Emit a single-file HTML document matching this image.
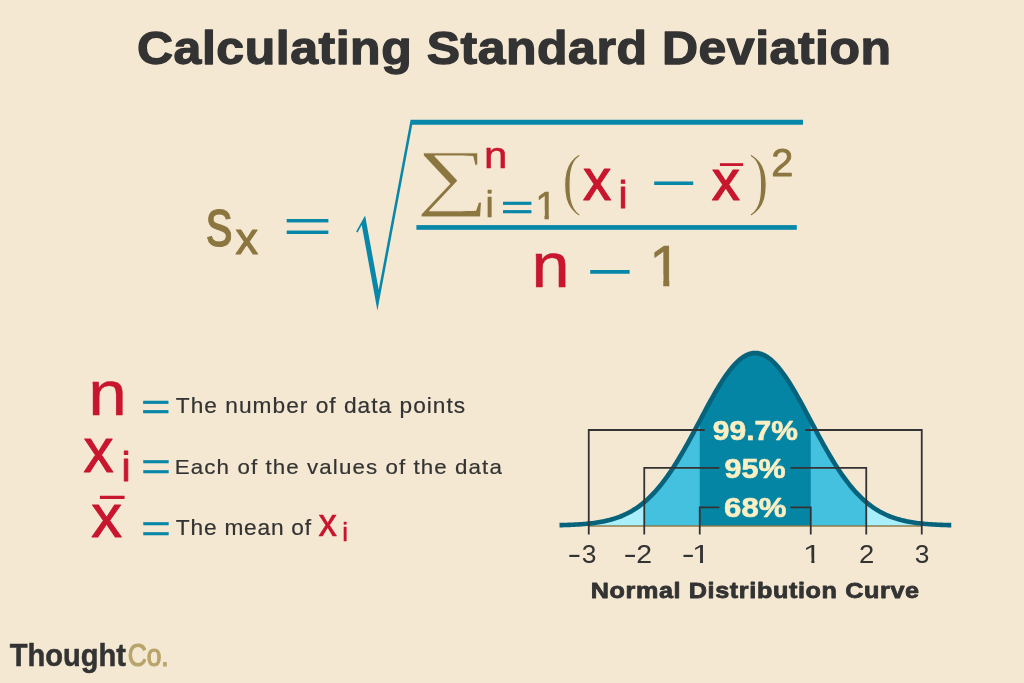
<!DOCTYPE html>
<html lang="en"><head><meta charset="utf-8"><title>Calculating Standard Deviation</title>
<style>
html,body{margin:0;padding:0;background:#f4e8d3;}
body{width:1024px;height:683px;overflow:hidden;}
svg{display:block;}
text{white-space:pre;}
</style></head><body>
<svg width="1024" height="683" viewBox="0 0 1024 683">
<defs>
<clipPath id="c1_0"><path d="M3.01 -38.95H13.64V7.79H9.40V-7.99H3.01Z"/></clipPath>
<clipPath id="c1_1"><path d="M4.69 -58.14H20.21V11.63H14.17V-11.92H4.69Z"/></clipPath>
<clipPath id="c1_2"><path d="M2.41 -26.02H8.94V5.20H6.44V-5.34H2.41Z"/></clipPath>
<clipPath id="c1_3"><path d="M2.41 -26.02H8.94V5.20H6.44V-5.34H2.41Z"/></clipPath>
</defs>
<rect width="1024" height="683" fill="#f4e8d3"/>
<g id="chart">
<path d="M588.75 526.00 L588.75 523.58 L590.75 523.37 L592.75 523.13 L594.75 522.87 L596.75 522.58 L598.75 522.26 L600.75 521.92 L602.75 521.54 L604.75 521.13 L606.75 520.69 L608.75 520.21 L610.75 519.68 L612.75 519.11 L614.75 518.50 L616.75 517.84 L618.75 517.12 L620.75 516.35 L622.75 515.52 L624.75 514.63 L626.75 513.68 L628.75 512.66 L630.75 511.57 L632.75 510.40 L634.75 509.16 L636.75 507.85 L638.75 506.45 L640.75 504.96 L642.75 503.39 L644.75 501.73 L646.75 499.98 L648.75 498.13 L650.75 496.19 L652.75 494.16 L654.75 492.02 L656.75 489.79 L658.75 487.45 L660.75 485.02 L662.75 482.49 L664.75 479.85 L666.75 477.12 L668.75 474.29 L670.75 471.37 L672.75 468.36 L674.75 465.25 L676.75 462.06 L678.75 458.78 L680.75 455.43 L682.75 452.01 L684.75 448.52 L686.75 444.96 L688.75 441.35 L690.75 437.70 L692.75 434.00 L694.75 430.27 L696.75 426.52 L698.75 422.76 L700.75 418.99 L702.75 415.22 L704.75 411.47 L706.75 407.75 L708.75 404.06 L710.75 400.42 L712.75 396.84 L714.75 393.32 L716.75 389.89 L718.75 386.55 L720.75 383.31 L722.75 380.18 L724.75 377.18 L726.75 374.31 L728.75 371.58 L730.75 369.01 L732.75 366.61 L734.75 364.38 L736.75 362.32 L738.75 360.46 L740.75 358.79 L742.75 357.32 L744.75 356.06 L746.75 355.01 L748.75 354.18 L750.75 353.57 L752.75 353.17 L754.75 353.01 L756.75 353.06 L758.75 353.34 L760.75 353.84 L762.75 354.57 L764.75 355.51 L766.75 356.66 L768.75 358.03 L770.75 359.60 L772.75 361.37 L774.75 363.33 L776.75 365.47 L778.75 367.79 L780.75 370.28 L782.75 372.93 L784.75 375.72 L786.75 378.66 L788.75 381.73 L790.75 384.91 L792.75 388.21 L794.75 391.60 L796.75 395.07 L798.75 398.62 L800.75 402.23 L802.75 405.90 L804.75 409.61 L806.75 413.35 L808.75 417.10 L810.75 420.87 L812.75 424.64 L814.75 428.40 L816.75 432.14 L818.75 435.85 L820.75 439.53 L822.75 443.16 L824.75 446.75 L826.75 450.27 L828.75 453.73 L830.75 457.12 L832.75 460.43 L834.75 463.67 L836.75 466.81 L838.75 469.88 L840.75 472.84 L842.75 475.72 L844.75 478.50 L846.75 481.18 L848.75 483.77 L850.75 486.25 L852.75 488.63 L854.75 490.92 L856.75 493.10 L858.75 495.19 L860.75 497.18 L862.75 499.07 L864.75 500.87 L866.75 502.57 L868.75 504.19 L870.75 505.71 L872.75 507.16 L874.75 508.51 L876.75 509.79 L878.75 510.99 L880.75 512.12 L882.75 513.18 L884.75 514.16 L886.75 515.08 L888.75 515.94 L890.75 516.74 L892.75 517.48 L894.75 518.17 L896.75 518.81 L898.75 519.40 L900.75 519.95 L902.75 520.45 L904.75 520.92 L906.75 521.34 L908.75 521.74 L910.75 522.09 L912.75 522.42 L914.75 522.72 L916.75 523.00 L918.75 523.25 L920.75 523.48 L921.75 523.58 L921.75 526.00Z" fill="#a9eefb"/>
<path d="M644.25 526.00 L644.25 502.15 L646.25 500.43 L648.25 498.60 L650.25 496.69 L652.25 494.68 L654.25 492.57 L656.25 490.36 L658.25 488.05 L660.25 485.64 L662.25 483.13 L664.25 480.52 L666.25 477.81 L668.25 475.01 L670.25 472.11 L672.25 469.12 L674.25 466.04 L676.25 462.86 L678.25 459.61 L680.25 456.28 L682.25 452.87 L684.25 449.39 L686.25 445.86 L688.25 442.26 L690.25 438.62 L692.25 434.93 L694.25 431.21 L696.25 427.46 L698.25 423.70 L700.25 419.93 L702.25 416.16 L704.25 412.41 L706.25 408.68 L708.25 404.98 L710.25 401.33 L712.25 397.73 L714.25 394.19 L716.25 390.74 L718.25 387.37 L720.25 384.11 L722.25 380.95 L724.25 377.92 L726.25 375.01 L728.25 372.25 L730.25 369.64 L732.25 367.19 L734.25 364.92 L736.25 362.82 L738.25 360.91 L740.25 359.19 L742.25 357.67 L744.25 356.36 L746.25 355.25 L748.25 354.37 L750.25 353.70 L752.25 353.25 L754.25 353.03 L756.25 353.03 L758.25 353.25 L760.25 353.70 L762.25 354.37 L764.25 355.25 L766.25 356.36 L768.25 357.67 L770.25 359.19 L772.25 360.91 L774.25 362.82 L776.25 364.92 L778.25 367.19 L780.25 369.64 L782.25 372.25 L784.25 375.01 L786.25 377.92 L788.25 380.95 L790.25 384.11 L792.25 387.37 L794.25 390.74 L796.25 394.19 L798.25 397.73 L800.25 401.33 L802.25 404.98 L804.25 408.68 L806.25 412.41 L808.25 416.16 L810.25 419.93 L812.25 423.70 L814.25 427.46 L816.25 431.21 L818.25 434.93 L820.25 438.62 L822.25 442.26 L824.25 445.86 L826.25 449.39 L828.25 452.87 L830.25 456.28 L832.25 459.61 L834.25 462.86 L836.25 466.04 L838.25 469.12 L840.25 472.11 L842.25 475.01 L844.25 477.81 L846.25 480.52 L848.25 483.13 L850.25 485.64 L852.25 488.05 L854.25 490.36 L856.25 492.57 L858.25 494.68 L860.25 496.69 L862.25 498.60 L864.25 500.43 L866.25 502.15 L866.25 526.00Z" fill="#44c1de"/>
<path d="M699.75 526.00 L699.75 420.87 L701.75 417.10 L703.75 413.35 L705.75 409.61 L707.75 405.90 L709.75 402.23 L711.75 398.62 L713.75 395.07 L715.75 391.60 L717.75 388.21 L719.75 384.91 L721.75 381.73 L723.75 378.66 L725.75 375.72 L727.75 372.93 L729.75 370.28 L731.75 367.79 L733.75 365.47 L735.75 363.33 L737.75 361.37 L739.75 359.60 L741.75 358.03 L743.75 356.66 L745.75 355.51 L747.75 354.57 L749.75 353.84 L751.75 353.34 L753.75 353.06 L755.75 353.01 L757.75 353.17 L759.75 353.57 L761.75 354.18 L763.75 355.01 L765.75 356.06 L767.75 357.32 L769.75 358.79 L771.75 360.46 L773.75 362.32 L775.75 364.38 L777.75 366.61 L779.75 369.01 L781.75 371.58 L783.75 374.31 L785.75 377.18 L787.75 380.18 L789.75 383.31 L791.75 386.55 L793.75 389.89 L795.75 393.32 L797.75 396.84 L799.75 400.42 L801.75 404.06 L803.75 407.75 L805.75 411.47 L807.75 415.22 L809.75 418.99 L810.75 420.87 L810.75 526.00Z" fill="#0585a4"/>
<rect x="588.75" y="525.30" width="333.00" height="1.4" fill="#8c7640"/>
<path d="M559.50 525.16 L561.00 525.12 L562.50 525.09 L564.00 525.04 L565.50 525.00 L567.00 524.95 L568.50 524.90 L570.00 524.84 L571.50 524.78 L573.00 524.71 L574.50 524.64 L576.00 524.56 L577.50 524.48 L579.00 524.39 L580.50 524.29 L582.00 524.18 L583.50 524.06 L585.00 523.94 L586.50 523.80 L588.00 523.66 L589.50 523.50 L591.00 523.34 L592.50 523.16 L594.00 522.97 L595.50 522.76 L597.00 522.54 L598.50 522.30 L600.00 522.05 L601.50 521.78 L603.00 521.49 L604.50 521.19 L606.00 520.86 L607.50 520.51 L609.00 520.14 L610.50 519.75 L612.00 519.33 L613.50 518.89 L615.00 518.42 L616.50 517.92 L618.00 517.39 L619.50 516.84 L621.00 516.25 L622.50 515.63 L624.00 514.97 L625.50 514.28 L627.00 513.55 L628.50 512.79 L630.00 511.98 L631.50 511.14 L633.00 510.25 L634.50 509.32 L636.00 508.35 L637.50 507.33 L639.00 506.26 L640.50 505.15 L642.00 503.99 L643.50 502.78 L645.00 501.52 L646.50 500.20 L648.00 498.84 L649.50 497.42 L651.00 495.95 L652.50 494.42 L654.00 492.83 L655.50 491.20 L657.00 489.50 L658.50 487.75 L660.00 485.94 L661.50 484.08 L663.00 482.16 L664.50 480.19 L666.00 478.16 L667.50 476.07 L669.00 473.93 L670.50 471.74 L672.00 469.50 L673.50 467.20 L675.00 464.86 L676.50 462.46 L678.00 460.02 L679.50 457.54 L681.00 455.01 L682.50 452.44 L684.00 449.83 L685.50 447.19 L687.00 444.51 L688.50 441.81 L690.00 439.07 L691.50 436.32 L693.00 433.54 L694.50 430.74 L696.00 427.93 L697.50 425.11 L699.00 422.29 L700.50 419.46 L702.00 416.63 L703.50 413.82 L705.00 411.01 L706.50 408.21 L708.00 405.44 L709.50 402.69 L711.00 399.97 L712.50 397.28 L714.00 394.63 L715.50 392.02 L717.00 389.47 L718.50 386.96 L720.00 384.51 L721.50 382.12 L723.00 379.80 L724.50 377.54 L726.00 375.37 L727.50 373.27 L729.00 371.25 L730.50 369.33 L732.00 367.49 L733.50 365.75 L735.00 364.11 L736.50 362.57 L738.00 361.13 L739.50 359.81 L741.00 358.59 L742.50 357.49 L744.00 356.51 L745.50 355.64 L747.00 354.90 L748.50 354.27 L750.00 353.77 L751.50 353.39 L753.00 353.14 L754.50 353.02 L756.00 353.02 L757.50 353.14 L759.00 353.39 L760.50 353.77 L762.00 354.27 L763.50 354.90 L765.00 355.64 L766.50 356.51 L768.00 357.49 L769.50 358.59 L771.00 359.81 L772.50 361.13 L774.00 362.57 L775.50 364.11 L777.00 365.75 L778.50 367.49 L780.00 369.33 L781.50 371.25 L783.00 373.27 L784.50 375.37 L786.00 377.54 L787.50 379.80 L789.00 382.12 L790.50 384.51 L792.00 386.96 L793.50 389.47 L795.00 392.02 L796.50 394.63 L798.00 397.28 L799.50 399.97 L801.00 402.69 L802.50 405.44 L804.00 408.21 L805.50 411.01 L807.00 413.82 L808.50 416.63 L810.00 419.46 L811.50 422.29 L813.00 425.11 L814.50 427.93 L816.00 430.74 L817.50 433.54 L819.00 436.32 L820.50 439.07 L822.00 441.81 L823.50 444.51 L825.00 447.19 L826.50 449.83 L828.00 452.44 L829.50 455.01 L831.00 457.54 L832.50 460.02 L834.00 462.46 L835.50 464.86 L837.00 467.20 L838.50 469.50 L840.00 471.74 L841.50 473.93 L843.00 476.07 L844.50 478.16 L846.00 480.19 L847.50 482.16 L849.00 484.08 L850.50 485.94 L852.00 487.75 L853.50 489.50 L855.00 491.20 L856.50 492.83 L858.00 494.42 L859.50 495.95 L861.00 497.42 L862.50 498.84 L864.00 500.20 L865.50 501.52 L867.00 502.78 L868.50 503.99 L870.00 505.15 L871.50 506.26 L873.00 507.33 L874.50 508.35 L876.00 509.32 L877.50 510.25 L879.00 511.14 L880.50 511.98 L882.00 512.79 L883.50 513.55 L885.00 514.28 L886.50 514.97 L888.00 515.63 L889.50 516.25 L891.00 516.84 L892.50 517.39 L894.00 517.92 L895.50 518.42 L897.00 518.89 L898.50 519.33 L900.00 519.75 L901.50 520.14 L903.00 520.51 L904.50 520.86 L906.00 521.19 L907.50 521.49 L909.00 521.78 L910.50 522.05 L912.00 522.30 L913.50 522.54 L915.00 522.76 L916.50 522.97 L918.00 523.16 L919.50 523.34 L921.00 523.50 L922.50 523.66 L924.00 523.80 L925.50 523.94 L927.00 524.06 L928.50 524.18 L930.00 524.29 L931.50 524.39 L933.00 524.48 L934.50 524.56 L936.00 524.64 L937.50 524.71 L939.00 524.78 L940.50 524.84 L942.00 524.90 L943.50 524.95 L945.00 525.00 L946.50 525.04 L948.00 525.09 L949.50 525.12 L951.00 525.16 L951.25 525.16" fill="none" stroke="#07637c" stroke-width="4.6" stroke-linecap="butt" stroke-linejoin="round"/>
<path d="M588.75 534.5 V430 H704.7 M805.3 430 H921.75 V534.5" fill="none" stroke="#333333" stroke-width="1.8"/>
<path d="M644.25 534.5 V467.8 H719.4 M790.5 467.8 H866.25 V534.5" fill="none" stroke="#333333" stroke-width="1.8"/>
<path d="M699.75 534.5 V507.4 H719.4 M790.5 507.4 H810.75 V534.5" fill="none" stroke="#333333" stroke-width="1.8"/>
</g>
<g id="radical">
<path d="M356.15 231.6 L365.1 215.45 L378.7 289.75 L410.6 119.75 H803 V124.75 H412.25 L377.4 310.6 L361.7 224.9 L357.55 232.4 Z" fill="#0887a8"/>
<rect x="416.4" y="225.1" width="380.4" height="4.7" fill="#0887a8"/>
</g>
<g id="glyphs">
<text transform="translate(206.00 245.84) scale(0.7854 1)" font-family="'Liberation Sans', sans-serif" font-weight="normal" font-size="68.08" fill="#8c7640" stroke="#8c7640" stroke-width="1.0" stroke-linejoin="round">s</text>
<text transform="translate(235.40 253.50) scale(1.0069 1)" font-family="'Liberation Sans', sans-serif" font-weight="normal" font-size="44.86" fill="#8c7640" stroke="#8c7640" stroke-width="1.2" stroke-linejoin="round">x</text>
<text transform="translate(282.74 241.66) scale(1.8517 1)" font-family="'Liberation Sans', sans-serif" font-weight="normal" font-size="45.92" fill="#0887a8" stroke="#0887a8" stroke-width="0.1" stroke-linejoin="round">=</text>
<text transform="translate(416.55 200.99) scale(1.3732 1)" font-family="'Liberation Serif', serif" font-weight="normal" font-size="74.05" fill="#8c7640" stroke="#f4e8d3" stroke-width="1.0" stroke-linejoin="round">∑</text>
<text transform="translate(483.89 167.85) scale(1.1187 1)" font-family="'Liberation Sans', sans-serif" font-weight="normal" font-size="37.54" fill="#c8162e" stroke="#c8162e" stroke-width="0.5" stroke-linejoin="round">n</text>
<text transform="translate(485.52 216.80) scale(1.0000 1)" font-family="'Liberation Sans', sans-serif" font-weight="normal" font-size="36.85" fill="#8c7640" stroke="#8c7640" stroke-width="0.6" stroke-linejoin="round">i</text>
<text transform="translate(500.86 219.22) scale(1.7189 1)" font-family="'Liberation Sans', sans-serif" font-weight="normal" font-size="32.89" fill="#0887a8" stroke="#0887a8" stroke-width="0.6" stroke-linejoin="round">=</text>
<text transform="translate(535.15 218.60) scale(1.0009 1)" font-family="'Liberation Sans', sans-serif" font-weight="normal" font-size="38.95" fill="#8c7640" stroke="#8c7640" stroke-width="0.6" stroke-linejoin="round" clip-path="url(#c1_0)">1</text>
<text transform="translate(562.05 201.69) scale(0.8421 1)" font-family="'Liberation Serif', serif" font-weight="normal" font-size="70.25" fill="#8c7640" stroke="#f4e8d3" stroke-width="1.3" stroke-linejoin="round">(</text>
<text transform="translate(583.05 200.40) scale(0.9671 1)" font-family="'Liberation Sans', sans-serif" font-weight="normal" font-size="58.49" fill="#c8162e" stroke="#c8162e" stroke-width="1.2" stroke-linejoin="round">x</text>
<text transform="translate(618.69 208.25) scale(1.0000 1)" font-family="'Liberation Sans', sans-serif" font-weight="normal" font-size="38.43" fill="#c8162e" stroke="#c8162e" stroke-width="1.0" stroke-linejoin="round">i</text>
<text transform="translate(650.14 200.19) scale(1.5896 1)" font-family="'Liberation Sans', sans-serif" font-weight="normal" font-size="50.50" fill="#0887a8">−</text>
<text transform="translate(711.85 200.40) scale(0.9789 1)" font-family="'Liberation Sans', sans-serif" font-weight="normal" font-size="57.54" fill="#c8162e" stroke="#c8162e" stroke-width="1.2" stroke-linejoin="round">x</text>
<text transform="translate(720.34 209.05) scale(0.6685 1)" font-family="'Liberation Sans', sans-serif" font-weight="normal" font-size="61.00" fill="#c8162e">¯</text>
<text transform="translate(748.31 201.69) scale(0.8899 1)" font-family="'Liberation Serif', serif" font-weight="normal" font-size="70.25" fill="#8c7640" stroke="#f4e8d3" stroke-width="1.3" stroke-linejoin="round">)</text>
<text transform="translate(771.32 175.85) scale(1.0318 1)" font-family="'Liberation Sans', sans-serif" font-weight="normal" font-size="38.45" fill="#8c7640" stroke="#8c7640" stroke-width="0.8" stroke-linejoin="round">2</text>
<text transform="translate(531.39 286.50) scale(1.0885 1)" font-family="'Liberation Sans', sans-serif" font-weight="normal" font-size="62.82" fill="#c8162e" stroke="#c8162e" stroke-width="0.6" stroke-linejoin="round">n</text>
<text transform="translate(586.00 288.61) scale(1.5625 1)" font-family="'Liberation Sans', sans-serif" font-weight="normal" font-size="51.90" fill="#0887a8">−</text>
<text transform="translate(649.18 286.25) scale(0.9956 1)" font-family="'Liberation Sans', sans-serif" font-weight="normal" font-size="58.14" fill="#8c7640" stroke="#8c7640" stroke-width="0.7" stroke-linejoin="round" clip-path="url(#c1_1)">1</text>
<text transform="translate(88.31 415.20) scale(1.0976 1)" font-family="'Liberation Sans', sans-serif" font-weight="normal" font-size="63.19" fill="#c8162e" stroke="#c8162e" stroke-width="0.4" stroke-linejoin="round">n</text>
<text transform="translate(141.07 418.65) scale(1.3720 1)" font-family="'Liberation Sans', sans-serif" font-weight="normal" font-size="36.93" fill="#0887a8" stroke="#0887a8" stroke-width="0.5" stroke-linejoin="round">=</text>
<text transform="translate(83.50 472.10) scale(0.9541 1)" font-family="'Liberation Sans', sans-serif" font-weight="normal" font-size="63.03" fill="#c8162e" stroke="#c8162e" stroke-width="1.0" stroke-linejoin="round">x</text>
<text transform="translate(121.62 480.65) scale(1.0000 1)" font-family="'Liberation Sans', sans-serif" font-weight="normal" font-size="40.85" fill="#c8162e" stroke="#c8162e" stroke-width="0.9" stroke-linejoin="round">i</text>
<text transform="translate(140.89 480.47) scale(1.3010 1)" font-family="'Liberation Sans', sans-serif" font-weight="normal" font-size="39.41" fill="#0887a8" stroke="#0887a8" stroke-width="0.3" stroke-linejoin="round">=</text>
<text transform="translate(91.31 537.20) scale(0.9939 1)" font-family="'Liberation Sans', sans-serif" font-weight="normal" font-size="61.89" fill="#c8162e" stroke="#c8162e" stroke-width="1.0" stroke-linejoin="round">x</text>
<text transform="translate(100.36 549.43) scale(0.6228 1)" font-family="'Liberation Sans', sans-serif" font-weight="normal" font-size="69.72" fill="#c8162e">¯</text>
<text transform="translate(140.89 541.72) scale(1.3010 1)" font-family="'Liberation Sans', sans-serif" font-weight="normal" font-size="39.41" fill="#0887a8" stroke="#0887a8" stroke-width="0.3" stroke-linejoin="round">=</text>
<text transform="translate(318.57 535.50) scale(0.9505 1)" font-family="'Liberation Sans', sans-serif" font-weight="normal" font-size="38.80" fill="#c8162e" stroke="#c8162e" stroke-width="0.6" stroke-linejoin="round">x</text>
<text transform="translate(342.35 540.85) scale(1.0000 1)" font-family="'Liberation Sans', sans-serif" font-weight="normal" font-size="25.67" fill="#c8162e" stroke="#c8162e" stroke-width="0.5" stroke-linejoin="round">i</text>
</g>
<g id="runs">
<text transform="translate(137.00 63.85) scale(1.0700 1)" font-family="'Liberation Sans', sans-serif" font-weight="bold" font-size="46.70" letter-spacing="0.502" fill="#333333" stroke="#333333" stroke-width="1.3" stroke-linejoin="round">Calculating Standard Deviation</text>
<text transform="translate(175.84 412.80) scale(1.0700 1)" font-family="'Liberation Sans', sans-serif" font-weight="normal" font-size="21.22" letter-spacing="0.947" fill="#333333" stroke="#333333" stroke-width="0.2" stroke-linejoin="round">The number of data points</text>
<text transform="translate(174.87 474.05) scale(1.0700 1)" font-family="'Liberation Sans', sans-serif" font-weight="normal" font-size="20.86" letter-spacing="1.023" fill="#333333" stroke="#333333" stroke-width="0.2" stroke-linejoin="round">Each of the values of the data</text>
<text transform="translate(175.84 534.80) scale(1.0700 1)" font-family="'Liberation Sans', sans-serif" font-weight="normal" font-size="21.22" letter-spacing="0.729" fill="#333333" stroke="#333333" stroke-width="0.2" stroke-linejoin="round">The mean of</text>
<text transform="translate(590.71 597.70) scale(1.1300 1)" font-family="'Liberation Sans', sans-serif" font-weight="bold" font-size="22.30" letter-spacing="0.548" fill="#333333" stroke="#333333" stroke-width="0.8" stroke-linejoin="round">Normal Distribution Curve</text>
<text transform="translate(712.76 439.70) scale(1.0872 1)" font-family="'Liberation Sans', sans-serif" font-weight="bold" font-size="27.62" fill="#fbefc3" stroke="#fbefc3" stroke-width="0.6" stroke-linejoin="round">99.7%</text>
<text transform="translate(724.54 477.90) scale(1.1408 1)" font-family="'Liberation Sans', sans-serif" font-weight="bold" font-size="26.74" fill="#fbefc3" stroke="#fbefc3" stroke-width="0.6" stroke-linejoin="round">95%</text>
<text transform="translate(724.06 517.30) scale(1.1525 1)" font-family="'Liberation Sans', sans-serif" font-weight="bold" font-size="27.03" fill="#fbefc3" stroke="#fbefc3" stroke-width="0.6" stroke-linejoin="round">68%</text>
<text transform="translate(9.82 666.25) scale(0.9307 1)" font-family="'Liberation Sans', sans-serif" font-weight="bold" font-size="31.25" fill="#333333" stroke="#333333" stroke-width="0.5" stroke-linejoin="round">Thought</text>
<text transform="translate(127.66 666.30) scale(0.8480 1)" font-family="'Liberation Sans', sans-serif" font-weight="normal" font-size="31.10" fill="#b8a46b" stroke="#b8a46b" stroke-width="1.2" stroke-linejoin="round">Co.</text>
</g>
<g id="ticks">
<g><text transform="translate(567.56 562.78) scale(1.4690 1)" font-family="'Liberation Sans', sans-serif" font-weight="normal" font-size="28.16" fill="#333333">-</text><text transform="translate(581.65 562.65) scale(1.0428 1)" font-family="'Liberation Sans', sans-serif" font-weight="normal" font-size="25.28" fill="#333333">3</text></g>
<g><text transform="translate(623.53 562.78) scale(1.4109 1)" font-family="'Liberation Sans', sans-serif" font-weight="normal" font-size="28.16" fill="#333333">-</text><text transform="translate(636.22 562.90) scale(1.1088 1)" font-family="'Liberation Sans', sans-serif" font-weight="normal" font-size="25.64" fill="#333333">2</text></g>
<g><text transform="translate(681.69 562.78) scale(1.3672 1)" font-family="'Liberation Sans', sans-serif" font-weight="normal" font-size="28.16" fill="#333333">-</text><text transform="translate(692.05 562.90) scale(1.2383 1)" font-family="'Liberation Sans', sans-serif" font-weight="normal" font-size="26.02" fill="#333333" clip-path="url(#c1_2)">1</text></g>
<g><text transform="translate(802.78 562.90) scale(1.3251 1)" font-family="'Liberation Sans', sans-serif" font-weight="normal" font-size="26.02" fill="#333333" clip-path="url(#c1_3)">1</text></g>
<g><text transform="translate(858.92 562.90) scale(1.0703 1)" font-family="'Liberation Sans', sans-serif" font-weight="normal" font-size="25.64" fill="#333333">2</text></g>
<g><text transform="translate(914.80 562.65) scale(1.0428 1)" font-family="'Liberation Sans', sans-serif" font-weight="normal" font-size="25.28" fill="#333333">3</text></g>
</g>
</svg>
</body></html>
